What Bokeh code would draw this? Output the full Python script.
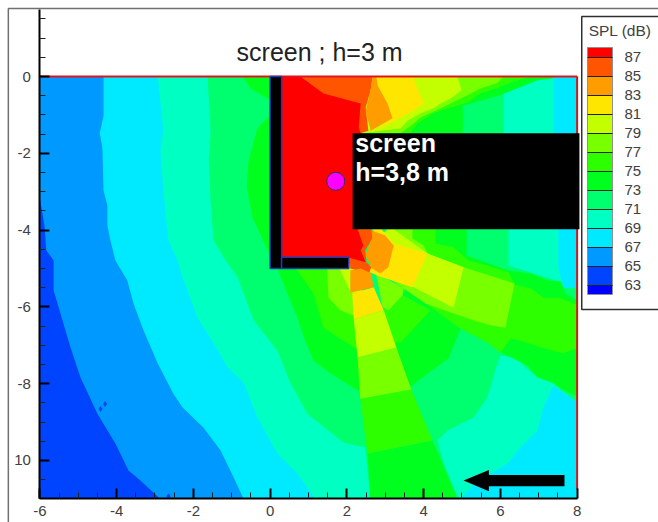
from bokeh.plotting import figure
from bokeh.embed import file_html
from bokeh.resources import INLINE
from bokeh.core.properties import value
from bokeh.models import (ColorBar, LinearColorMapper, FixedTicker, Range1d)

# ---- SPL bands, lowest to highest ----
C_BELOW63 = "#0000ff"; C63 = "#0044ff"; C65 = "#0099ff"; C67 = "#00eaff"; C69 = "#00ffc3"
C71 = "#00ff6e"; C73 = "#00ff1e"; C75 = "#2dff00"; C77 = "#78ff00"; C79 = "#c4ff00"
C81 = "#ffe600"; C83 = "#ff9d00"; C85 = "#ff5500"; C87 = "#ff0000"
# one entry per dB from 62 to 88
palette = [C_BELOW63] + [c for c in (C63, C65, C67, C69, C71, C73, C75, C77, C79, C81, C83, C85) for _ in (0, 1)] + [C87]
level_ticks = [63, 65, 67, 69, 71, 73, 75, 77, 79, 81, 83, 85, 87]

x_major = [-6, -4, -2, 0, 2, 4, 6, 8]
x_labels = {-6: "-6", -4: "-4", -2: "-2", 0: "0", 2: "2", 4: "4", 6: "6", 8: "8"}
x_minor = [-5.5, -5, -4.5, -3.5, -3, -2.5, -1.5, -1, -0.5, 0.5, 1, 1.5, 2.5, 3, 3.5, 4.5, 5, 5.5, 6.5, 7, 7.5]
y_major = [0, -2, -4, -6, -8, -10]
y_minor = [1.5, 1, 0.5, -0.5, -1, -1.5, -2.5, -3, -3.5, -4.5, -5, -5.5, -6.5, -7, -7.5, -8.5, -9, -9.5, -10.5]
y_labels = {0: "0", -2: "-2", -4: "-4", -6: "-6", -8: "-8", -10: "10"}

# ---- contour regions (x, y in metres) ----
full = [(-6, 0), (8, 0), (8, -11), (-6, -11)]
l63 = [(-6,-3.15),(-5.88,-3.88),(-5.83,-4.53),(-5.64,-4.79),(-5.64,-5.57),(-5.41,-6.35),(-5.20,-7.06),(-4.94,-7.84),(-4.50,-8.78),(-4.03,-9.56),(-3.69,-10.26),(-3.38,-10.52),(-2.86,-11),(-6,-11)]
l67 = [(-4.34,0),(-4.34,-1.02),(-4.44,-1.48),(-4.37,-1.85),(-4.34,-2.97),(-4.24,-3.36),(-4.24,-3.88),(-4.16,-4.27),(-4.03,-4.79),(-3.72,-5.31),(-3.56,-5.91),(-3.30,-6.61),(-2.93,-7.47),(-2.52,-8.26),(-2.28,-8.62),(-1.74,-9.14),(-1.29,-9.74),(-0.95,-10.44),(-0.69,-11),(8,-11),(8,0)]
l69 = [(-2.93,0),(-2.86,-.63),(-2.78,-1.41),(-2.86,-1.93),(-2.78,-2.97),(-2.73,-3.49),(-2.65,-4.27),(-2.41,-4.79),(-2.28,-5.23),(-1.89,-6.28),(-1.47,-6.95),(-1.11,-7.57),(-0.69,-7.97),(-0.33,-8.88),(0.19,-9.82),(0.71,-10.34),(1.18,-11),(8,-11),(8,0)]
l71 = [(-1.63,0),(-1.55,-1.41),(-1.60,-2.19),(-1.55,-3.23),(-1.47,-4.27),(-1.16,-4.79),(-0.85,-5.23),(-0.43,-6.35),(0.19,-7.14),(0.53,-7.99),(0.97,-8.78),(1.91,-9.53),(2.48,-9.66),(2.61,-11),(4.91,-11),(4.52,-10.08),(4.36,-9.48),(4.62,-9.22),(5.30,-8.88),(5.66,-8.36),(5.92,-7.47),(6.00,-7.27),(6.45,-7.32),(6.60,-7.53),(6.97,-7.84),(7.36,-7.99),(8,-8.49),(8,0)]
c69_top = [(6.08,0),(8,0),(8,-5.49),(6.21,-4.92),(6.21,-3.98),(6.08,-1.48)]
c67_top = [(7.38,0),(8,0),(8,-5.5),(7.64,-5.5),(7.51,-4.97),(7.51,-1.48),(7.38,-1.48)]
c67_low = [(4.96,-11),(5.40,-10.52),(6.19,-10.08),(6.52,-9.66),(6.97,-9.22),(7.12,-8.62),(7.38,-8.05),(8,-8.49),(8,-11)]
l73a = [(-.72,0),(-.51,-.31),(-.07,-.57),(0.05,-0.6),(0.05,0)]
l73b = [(0.05,-.96),(-.33,-1.35),(-.56,-2.19),(-.61,-2.89),(-.46,-3.67),(-.04,-4.58),(.19,-5.0),(.45,-5.65),(.71,-6.28),(.88,-6.80),(1.13,-7.40),(1.57,-7.73),(2.28,-8.18),(2.4,-8.18),(2.4,-4.7)]
l75 = [(.6,-4.9),(1.13,-5.65),(1.39,-6.54),(1.91,-6.88),(2.22,-7.08),(2.4,-7.08),(2.4,-4.9)]
l77 = [(1.49,-4.9),(1.49,-5.05),(1.52,-5.76),(1.83,-6.09),(2.14,-6.22),(2.4,-6.22),(2.4,-4.9)]
l79 = [(1.81,-5),(2.01,-5.44),(2.12,-5.63),(2.4,-5.63),(2.4,-5)]
# fan below the long screen
b73_strip = [(4.31,-3.98),(5.12,-3.98),(5.12,-4.66),(6.21,-5.05),(6.79,-5.13),(7.23,-5.31),(7.57,-5.34),(7.70,-5.65),(8,-5.83),(8,-8.33),(7.57,-8.13),(7.38,-7.97),(6.97,-7.84),(6.71,-7.53),(6.05,-7.21),(5.95,-7.08),(4.96,-6.56),(4.18,-6.09),(3.45,-5.70)]
b73_patch = [(4.18,-6.09),(4.96,-6.56),(4.65,-7.34),(3.79,-7.97),(3.65,-8.10),(3.25,-6.95)]
b75_patch = [(3.45,-5.70),(4.18,-6.09),(3.40,-6.93),(3.20,-6.93),(2.95,-6.09)]
b75 = [(3.71,-3.98),(4.31,-3.98),(4.31,-4.35),(4.78,-4.45),(5.17,-4.79),(5.66,-4.92),(6.21,-5.10),(6.37,-5.42),(6.79,-5.52),(7.13,-5.76),(7.57,-5.76),(8,-5.96),(8,-7.08),(7.62,-7.21),(7.13,-7.08),(6.53,-6.88),(6.27,-6.82),(6.0,-7.19),(5.66,-6.93),(4.96,-6.56),(4.05,-5.91),(3.48,-5.52),(2.87,-5.05)]
b77 = [(3.22,-3.98),(3.71,-3.98),(3.71,-4.22),(4.0,-4.40),(4.10,-4.61),(5.04,-4.97),(6.37,-5.39),(6.13,-6.54),(5.74,-6.48),(5.30,-6.35),(4.91,-6.22),(4.05,-5.91),(3.48,-5.52),(2.80,-5.05)]
b77b = [(2.75,-5.1),(3.48,-5.52),(3.45,-5.70),(3.08,-6.09),(2.93,-6.0)]
b79 = [(2.88,-4.14),(3.06,-3.98),(3.22,-3.98),(4.10,-4.61),(5.04,-4.97),(4.78,-6.02),(3.74,-5.49),(2.80,-5.18)]
b81 = [(2.69,-3.98),(2.9,-3.98),(3.22,-4.35),(4.10,-4.61),(3.71,-5.49),(2.80,-5.18),(2.6,-5.1)]
b83 = [(2.56,-3.98),(3.0,-4.14),(3.22,-4.40),(3.08,-4.97),(2.87,-5.13),(2.66,-5.0),(2.48,-4.66),(2.64,-4.22)]
b85 = [(2.15,-3.98),(2.64,-3.98),(2.66,-4.22),(2.48,-4.53),(2.51,-4.84),(2.64,-4.97),(2.56,-5.13),(2.09,-5.0),(2.07,-4.74)]
# beam running downwards
v73 = [(2.54,-9.82),(4.23,-9.48),(4.57,-10.26),(4.88,-11),(2.61,-11)]
v75 = [(2.35,-8.39),(3.68,-8.15),(4.23,-9.48),(2.54,-9.82)]
v77 = [(2.28,-7.32),(3.29,-7.06),(3.68,-8.15),(2.35,-8.39)]
v79 = [(2.18,-6.33),(2.96,-6.09),(3.29,-7.06),(2.28,-7.32)]
v81 = [(2.14,-5.65),(2.70,-5.49),(2.96,-6.09),(2.18,-6.33)]
v83 = [(2.09,-5.63),(2.69,-5.49),(2.64,-5.13),(2.36,-5.0),(2.09,-5.05)]
# fan above the long screen
w73 = [(3.67,-1.48),(5.02,-1.48),(5.02,-0.76),(5.99,-0.49),(6.44,-0.31),(6.96,-0.10),(7.36,-0.05),(7.36,0),(2.15,0),(2.15,-1.48)]
w75 = [(3.66,-1.48),(3.84,-1.22),(4.26,-.96),(4.70,-.81),(5.14,-.68),(5.48,-.44),(5.95,-.29),(6.19,-.18),(6.78,0),(2.15,0),(2.15,-1.48)]
w77 = [(3.40,-1.48),(3.66,-1.28),(3.92,-1.07),(4.31,-.89),(4.70,-.70),(5.14,-.49),(5.48,-.31),(5.93,-.16),(6.08,0),(2.15,0),(2.15,-1.48)]
w79 = [(2.41,-1.48),(3.40,-1.35),(3.58,-1.15),(3.92,-.96),(4.26,-.83),(4.44,-.70),(4.70,-.57),(4.99,-.36),(4.88,0),(2.15,0),(2.15,-1.48)]
u85 = [(.79,0),(2.67,0),(2.62,-.36),(2.49,-.81),(2.56,-1.41),(2.36,-1.48),(2.15,-1.48)]
u81 = [(2.77,0),(3.71,0),(4.0,-.70),(3.66,-.94),(3.40,-1.07),(2.67,-1.46),(3.19,-1.09),(3.06,-.70),(2.80,-.23)]
u83 = [(2.67,0),(2.77,0),(2.80,-.23),(3.06,-.70),(3.19,-1.09),(2.62,-1.41),(2.49,-.89),(2.62,-.36)]
red = [(.3,0),(.79,0),(1.39,-.44),(2.36,-.70),(2.31,-1.33),(2.36,-1.48),(2.36,-3.98),(2.28,-3.98),(2.43,-4.40),(2.36,-4.53),(2.49,-4.84),(2.01,-4.71),(.3,-4.71)]

layers = [(C65, full), (C63, l63), (C67, l67), (C69, l69), (C71, l71), (C69, c69_top), (C67, c67_top), (C67, c67_low),
          (C73, l73a), (C73, l73b), (C75, l75), (C77, l77), (C79, l79),
          (C73, b73_strip), (C73, b73_patch), (C75, b75_patch), (C75, b75), (C77, b77), (C77, b77b),
          (C79, b79), (C81, b81), (C83, b83), (C85, b85),
          (C73, v73), (C75, v75), (C77, v77), (C79, v79), (C81, v81), (C83, v83),
          (C73, w73), (C75, w75), (C77, w77), (C79, w79), (C85, u85), (C81, u81), (C83, u83), (C87, red)]

specks_x = [-4.42, -4.30, -2.65]
specks_y = [-8.66, -8.53, -10.93]
source_x = [1.71]
source_y = [-2.73]
wall_v = [(0, 0), (0.3, 0), (0.3, -5), (0, -5)]
wall_h = [(0.3, -4.71), (2.05, -4.71), (2.05, -5), (0.3, -5)]
long_screen = [(2.15, -1.48), (8.06, -1.48), (8.06, -3.98), (2.15, -3.98)]
arrow = [(5.04, -10.52), (5.70, -10.25), (5.70, -10.38), (7.67, -10.38), (7.67, -10.67), (5.70, -10.67), (5.70, -10.8)]
legend_box = [(8.12, 1.56), (10.4, 1.56), (10.4, -6.07), (8.12, -6.07)]
page_edge_x = [-6.82, -6.82, 10.4]
page_edge_y = [-12, 1.77, 1.77]

FONT = value("Liberation Sans")
TXT = "#404040"

# The frame fills the page; the axes are pinned to the data domain with fixed_location.
p = figure(width=658, height=522, output_backend="svg", toolbar_location=None,
           x_range=Range1d(-6.868, 10.12), y_range=Range1d(-11.615, 1.823),
           min_border_left=6, min_border_right=0, min_border_top=6, min_border_bottom=0)
p.outline_line_color = None
p.grid.visible = False

p.line(page_edge_x, page_edge_y, line_color="#707070", line_width=1.5)

for colour, poly in layers:
    p.patch([q[0] for q in poly], [q[1] for q in poly], fill_color=colour, line_color=None)
p.scatter(specks_x, specks_y, marker="diamond", size=6, fill_color=C63, line_color=None)

# domain edge
p.line([-6, 8], [0, 0], line_color="#e0141e", line_width=2)
p.line([8, 8], [0, -10.75], line_color="#d01818", line_width=2)

p.patch([q[0] for q in long_screen], [q[1] for q in long_screen], fill_color="black", line_color=None)
for w in (wall_v, wall_h):
    p.patch([q[0] for q in w], [q[1] for q in w], fill_color="black", line_color="#1c3cb4", line_width=1.5)
p.scatter(source_x, source_y, size=18, fill_color="#ff00ff", line_color="#30306a", line_width=1)
p.patch([q[0] for q in arrow], [q[1] for q in arrow], fill_color="black", line_color=None)

p.text([1.29], [0.65], text=["screen ; h=3 m"], text_font=FONT, text_font_size="25px",
       text_color="#222222", text_align="center", text_baseline="alphabetic")
p.text([2.22, 2.22], [-1.72, -2.48], text=["screen", "h=3,8 m"], text_font=FONT, text_font_size="25px",
       text_font_style="bold", text_color="white", text_baseline="alphabetic")

xa = p.xaxis[0]
xa.ticker = FixedTicker(ticks=x_major, minor_ticks=x_minor)
xa.major_label_overrides = x_labels
xa.bounds = (-6, 8)
xa.fixed_location = -11
ya = p.yaxis[0]
ya.ticker = FixedTicker(ticks=y_major, minor_ticks=y_minor)
ya.major_label_overrides = y_labels
ya.bounds = (-11, 1.75)
ya.fixed_location = -6
for a in (xa, ya):
    a.axis_line_color = "black"
    a.axis_line_width = 2
    a.major_tick_in = 10
    a.major_tick_out = 0
    a.major_tick_line_color = "black"
    a.major_tick_line_width = 2
    a.minor_tick_in = 6
    a.minor_tick_out = 0
    a.minor_tick_line_color = "#202020"
    a.minor_tick_line_width = 1
    a.major_label_text_font = "Liberation Sans"
    a.major_label_text_font_size = "15px"
    a.major_label_text_color = TXT
xa.major_label_standoff = 7
ya.major_label_standoff = 9

# legend
p.patch([q[0] for q in legend_box], [q[1] for q in legend_box], fill_color="white", line_color="#303030", line_width=1.5)
p.text([8.30], [1.19], text=["SPL (dB)"], text_font=FONT, text_font_size="15.5px", text_color=TXT, text_baseline="alphabetic")
mapper = LinearColorMapper(palette=palette, low=62, high=88)
cb = ColorBar(color_mapper=mapper, ticker=FixedTicker(ticks=level_ticks),
              orientation="vertical",
              width=25, height=247, padding=0, location=(581, 228),
              major_label_text_font="Liberation Sans", major_label_text_font_size="15px",
              major_label_text_color=TXT, label_standoff=12,
              major_tick_in=25, major_tick_out=0, major_tick_line_color="#202020", major_tick_line_width=1,
              minor_tick_line_color=None, bar_line_color="#909090", bar_line_width=1,
              background_fill_color=None, border_line_color=None)
p.add_layout(cb)

open("out.html", "w").write(file_html(p, INLINE))
